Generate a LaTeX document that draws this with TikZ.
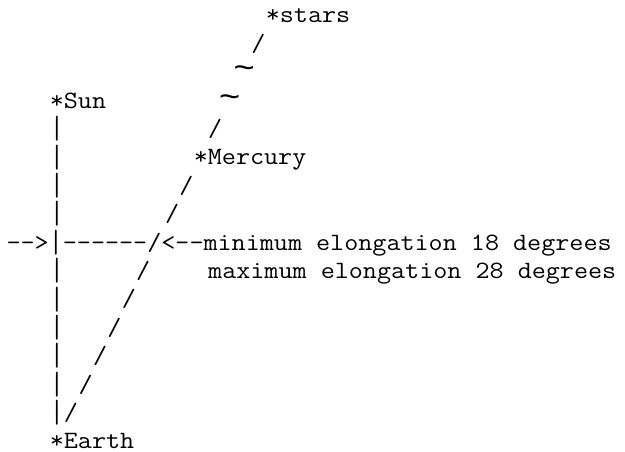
\documentclass[tikz,border=0pt]{standalone}
\usepackage{fontspec}
\usepackage{graphicx}
\setmonofont[FakeStretch=1.097]{Latin Modern Mono}
\newfontfamily\tildefont{Liberation Mono}
\newcommand\barch{\raisebox{-5bp}{\resizebox*{\width}{25bp}{\raisebox{\depth}{|}}}}
\newcommand\tildech{\makebox[14.4bp][c]{\tildefont\fontsize{25}{28}\selectfont\raisebox{1bp}{\scalebox{1.45}[1.3]{\char"007E}}}}
\begin{document}
\begin{tikzpicture}[txt/.style={font=\ttfamily\fontsize{25}{28}\selectfont, inner sep=0pt, outer sep=0pt, anchor=base west}]
\useasboundingbox (0bp,0bp) rectangle (625bp,-452bp);
\begin{scope}[shift={(6.6bp,-22.8bp)}, x=14.4bp, y=-28.4bp]
\node[txt] (stars) at (18,0) {*stars};
\node[txt] (s1) at (17,1) {/};
\node[txt] (t1) at (16,2) {\tildech};
\node[txt] (sun) at (3,3) {*Sun};
\node[txt] (t2) at (15,3) {\tildech};
\node[txt] (b4) at (3,4) {\barch};
\node[txt] (s4) at (14,4) {/};
\node[txt] (b5) at (3,5) {\barch};
\node[txt] (mercury) at (13,5) {*Mercury};
\node[txt] (b6) at (3,6) {\barch};
\node[txt] (s6) at (12,6) {/};
\node[txt] (b7) at (3,7) {\barch};
\node[txt] (s7) at (11,7) {/};
\node[txt] (minline) at (0,8) {-{}->\barch-{}-{}-{}-{}-{}-/<-{}-minimum elongation 18 degrees};
\node[txt] (b9) at (3,9) {\barch};
\node[txt] (s9) at (9,9) {/};
\node[txt] (maxline) at (14,9) {maximum elongation 28 degrees};
\node[txt] (b10) at (3,10) {\barch};
\node[txt] (s10) at (8,10) {/};
\node[txt] (b11) at (3,11) {\barch};
\node[txt] (s11) at (7,11) {/};
\node[txt] (b12) at (3,12) {\barch};
\node[txt] (s12) at (6,12) {/};
\node[txt] (b13) at (3,13) {\barch};
\node[txt] (s13) at (5,13) {/};
\node[txt] (b14) at (3,14) {\barch/};
\node[txt] (earth) at (3,15) {*Earth};
\end{scope}
\end{tikzpicture}
\end{document}
